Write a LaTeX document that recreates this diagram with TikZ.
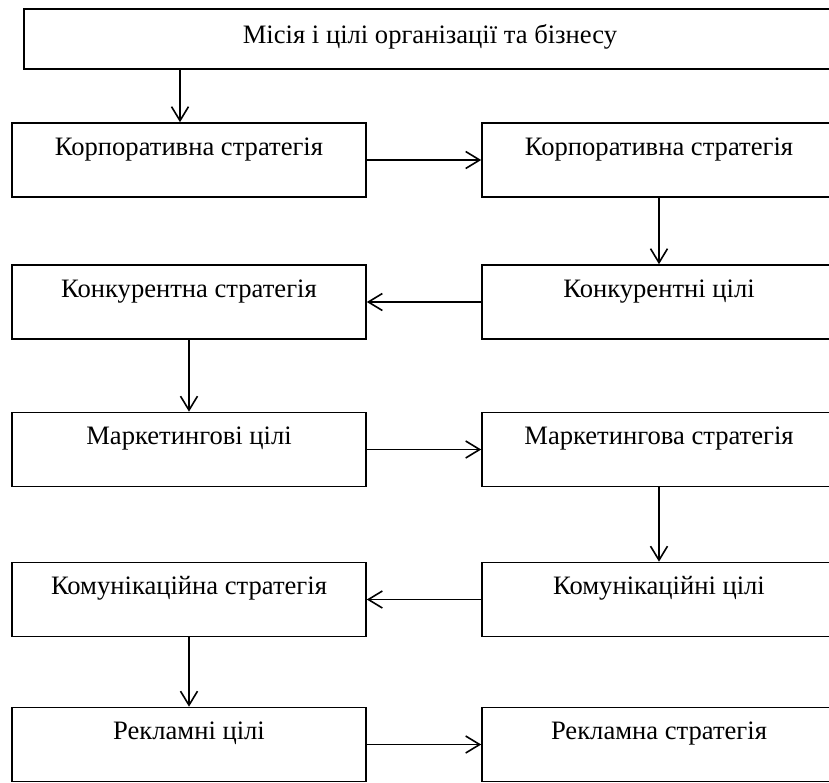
\documentclass[tikz,border=0pt]{standalone}
\usepackage{fontspec}
\setmainfont{Liberation Serif}
\usetikzlibrary{arrows.meta}

\begin{document}
\begin{tikzpicture}[x=1pt,y=-1pt]
      \useasboundingbox (0,0) rectangle (829,782);

      % Nodes
      \begin{scope}[every node/.style={rectangle,draw,line width=1.6pt,minimum width=354pt,
          inner xsep=0pt,inner ysep=0pt,text height=32pt,text depth=42pt,
          font=\fontsize{26.6}{30}\selectfont}]
        \node (top) at (430,39) [minimum width=812pt,text height=34pt,text depth=26pt] {Місія і цілі організації та бізнесу};

        \node (l1) at (189,160) {Корпоративна стратегія};
        \node (l2) at (189,302) {Конкурентна стратегія};
        \node (l3) at (189,449.5) {Маркетингові цілі};
        \node (l4) at (189,599.5) {Комунікаційна стратегія};
        \node (l5) at (189,744.5) {Рекламні цілі};

        \node (r1) at (659,160) {Корпоративна стратегія};
        \node (r2) at (659,302) {Конкурентні цілі};
        \node (r3) at (659,449.5) {Маркетингова стратегія};
        \node (r4) at (659,599.5) {Комунікаційні цілі};
        \node (r5) at (659,744.5) {Рекламна стратегія};
      \end{scope}

      % Edges
      \begin{scope}[every edge/.style={draw,line width=1.6pt,-{Straight Barb[length=14pt,width=17pt]}}]
        \path ([xshift=-9pt]l1.north |- top.south) edge ([xshift=-9pt]l1.north);

        \path (l1) edge (r1);
        \path (r1) edge (r2);
        \path (r2) edge (l2);
        \path (l2) edge (l3);
        \path (l3) edge (r3);
        \path (r3) edge (r4);
        \path (r4) edge (l4);
        \path (l4) edge (l5);
        \path (l5) edge (r5);
      \end{scope}

    \end{tikzpicture}
\end{document}
